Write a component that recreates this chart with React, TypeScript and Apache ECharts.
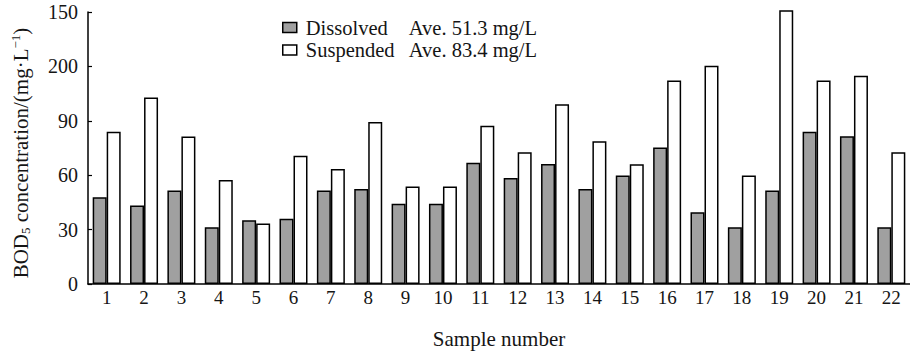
import React, { useEffect, useRef } from "react";
import * as echarts from "echarts";

const categories = ["1","2","3","4","5","6","7","8","9","10","11","12","13","14","15","16","17","18","19","20","21","22"];
const dissolved = [47.8, 43.3, 51.6, 31.3, 35.1, 36.0, 51.6, 52.4, 44.2, 44.2, 66.9, 58.4, 66.2, 52.4, 59.8, 75.3, 39.6, 31.3, 51.6, 84.0, 81.5, 31.3];
const suspended = [84.0, 102.9, 81.3, 57.4, 33.4, 70.7, 63.4, 89.3, 53.8, 53.8, 87.3, 72.7, 99.1, 78.7, 66.0, 112.2, 120.4, 59.8, 150.9, 112.2, 114.9, 72.7];
const yTickValues = [0, 30, 60, 90, 120, 150];
const yTickLabels = ["0", "30", "60", "90", "200", "150"];
const seriesNames = ["Dissolved", "Suspended"];
const averages = ["Ave. 51.3 mg/L", "Ave. 83.4 mg/L"];

const FONT = "Liberation Serif";
const INK = "#151515";

export default function App() {
  const ref = useRef<HTMLDivElement>(null);
  useEffect(() => {
    if (!ref.current) return;
    const chart = echarts.init(ref.current, null, { renderer: "svg" });
    chart.setOption({
      animation: false,
      backgroundColor: "#ffffff",
      textStyle: { fontFamily: FONT, color: INK },
      grid: { left: 88, top: 12, height: 274, width: 825.5 },
      legend: {
        orient: "vertical",
        left: 277,
        top: 12,
        itemWidth: 14,
        itemHeight: 10,
        itemGap: 1.5,
        icon: "rect",
        data: seriesNames,
        itemStyle: { borderColor: "#000", borderWidth: 1.5 },
        formatter: (name: string) => {
          const i = seriesNames.indexOf(name);
          return `{a|${name}}{b|${averages[i]}}`;
        },
        textStyle: {
          fontFamily: FONT,
          color: INK,
          fontSize: 20,
          rich: {
            a: { fontFamily: FONT, fontSize: 20.5, color: INK, width: 103, padding: [0, 0, 0, 4], lineHeight: 22 },
            b: { fontFamily: FONT, fontSize: 20.5, color: INK, lineHeight: 22 },
          },
        },
      },
      xAxis: {
        type: "category",
        data: categories,
        boundaryGap: true,
        name: "Sample number",
        nameLocation: "middle",
        nameGap: 44,
        nameTextStyle: { fontFamily: FONT, fontSize: 21, color: INK },
        axisLine: { lineStyle: { color: "#000", width: 1.5 } },
        axisTick: { inside: true, length: 5, interval: 0, lineStyle: { color: "#000", width: 1.2 } },
        axisLabel: { fontFamily: FONT, fontSize: 19, color: INK, margin: 4, interval: 0 },
      },
      yAxis: {
        type: "value",
        min: 0,
        max: 150,
        interval: 30,
        name: "{a|BOD}{s|5}{a| concentration/(mg·L}{p|−1}{a|)}",
        nameLocation: "middle",
        nameGap: 56,
        nameRotate: 90,
        nameTextStyle: {
          fontFamily: FONT,
          color: INK,
          fontSize: 21,
          padding: [0, 10, 0, 0],
          rich: {
            a: { fontFamily: FONT, fontSize: 21, color: INK },
            s: { fontFamily: FONT, fontSize: 13, color: INK, padding: [10, 0, 0, 0] },
            p: { fontFamily: FONT, fontSize: 13, color: INK, padding: [0, 0, 10, 0] },
          },
        },
        axisLine: { show: true, lineStyle: { color: "#000", width: 1.5 } },
        axisTick: { show: true, inside: true, length: 4, lineStyle: { color: "#000", width: 1.2 } },
        splitLine: { show: false },
        axisLabel: {
          fontFamily: FONT,
          fontSize: 20,
          color: INK,
          margin: 10,
          formatter: (v: number) => {
            const i = yTickValues.indexOf(v);
            return i >= 0 ? yTickLabels[i] : "";
          },
        },
      },
      series: [
        {
          name: seriesNames[0],
          type: "bar",
          data: dissolved,
          barWidth: 14,
          barGap: "0%",
          clip: false,
          itemStyle: { color: "#a0a0a0", borderColor: "#000", borderWidth: 1.5 },
        },
        {
          name: seriesNames[1],
          type: "bar",
          data: suspended,
          barWidth: 14,
          barGap: "0%",
          clip: false,
          itemStyle: { color: "#ffffff", borderColor: "#000", borderWidth: 1.5 },
        },
      ],
    });
    return () => chart.dispose();
  }, []);
  return (
    <div
      ref={ref}
      style={{ position: "absolute", left: 0, top: 0, width: 910, height: 354 }}
    />
  );
}
